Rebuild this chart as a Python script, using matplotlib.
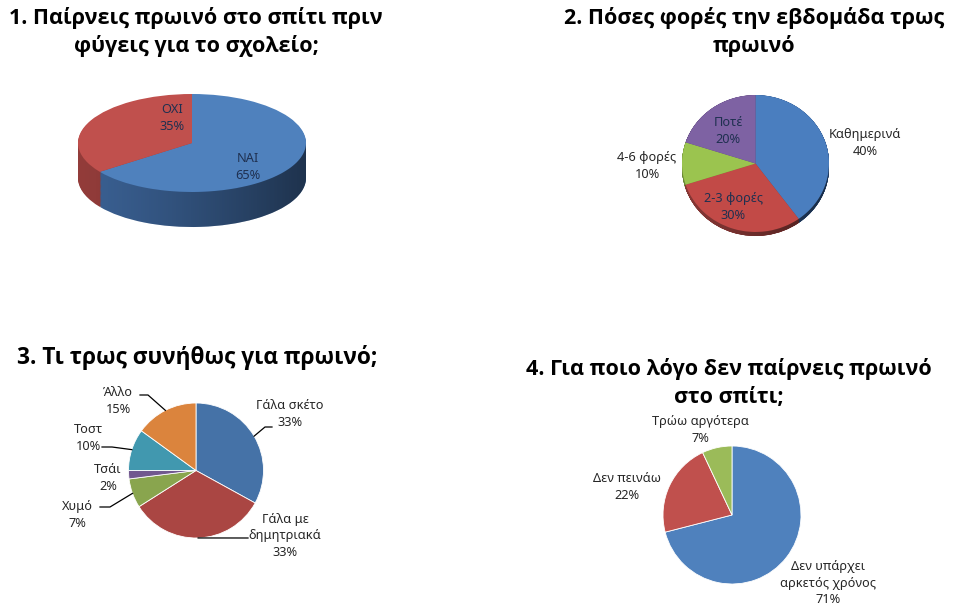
import matplotlib
matplotlib.use('Agg')
import numpy as np
import matplotlib.pyplot as plt
from matplotlib.transforms import Affine2D
from matplotlib.patches import Polygon

plt.rcParams['font.family'] = ['Noto Sans', 'DejaVu Sans']

W, H = 960, 605

# --- data ---
q1_labels = ['ΝΑΙ', 'ΟΧΙ']
q1_values = [65, 35]

q2_labels = ['Καθημερινά', '2-3 φορές', '4-6 φορές', 'Ποτέ']
q2_values = [40, 30, 10, 20]

q3_labels = ['Γάλα σκέτο', 'Γάλα με\nδημητριακά', 'Χυμό', 'Τσάι', 'Τοστ', 'Άλλο']
q3_values = [33, 33, 7, 2, 10, 15]

q4_labels = ['Δεν υπάρχει\nαρκετός χρόνος', 'Δεν πεινάω', 'Τρώω αργότερα']
q4_values = [71, 22, 7]

titles = [
    '1. Παίρνεις πρωινό στο σπίτι πριν\nφύγεις για το σχολείο;',
    '2. Πόσες φορές την εβδομάδα τρως\nπρωινό',
    '3. Τι τρως συνήθως για πρωινό;',
    '4. Για ποιο λόγο δεν παίρνεις πρωινό\nστο σπίτι;',
]

# --- styles ---
blue, red, green, purple = '#4F81BD', '#C0504D', '#9BBB59', '#8064A2'
q1_colors = [blue, red]
q1_side = ['#3D659A', '#9A3F3D']
q2_colors = ['#4A7EBF', '#C24A47', '#9BC44F', '#7E62A3']
q2_side = ['#2F5283', '#8C3A38', '#6E8C38', '#5A4575']
q3_colors = ['#4572A7', '#AA4643', '#89A54E', '#71588F', '#4198AF', '#DB843D']
q4_colors = [blue, red, green]

fig = plt.figure(figsize=(9.6, 6.05), dpi=100)
ax = fig.add_axes([0, 0, 1, 1])


def py(y):
    return H - y


def pie3d(values, colors, side, cx, cy, rx, ry, depth, steps=40):
    k = ry / rx
    c = (cx, py(cy))
    for i in range(steps, -1, -1):
        off = depth * i / steps
        cols = side if i > 0 else colors
        wedges, _ = ax.pie(values, colors=cols, startangle=90, counterclock=False,
                           radius=rx, center=c, frame=True,
                           wedgeprops=dict(linewidth=0))
        t = Affine2D().translate(-c[0], -c[1]).scale(1, k).translate(c[0], c[1] - off)
        for w in wedges:
            w.set_transform(t + ax.transData)
        if i == 1 and depth > 0:
            # shading of the side wall: lighter left, darker right
            th = np.linspace(np.pi, 2 * np.pi, 100)
            top = np.c_[c[0] + rx * np.cos(th), c[1] + ry * np.sin(th)]
            bot = np.c_[c[0] + rx * np.cos(th[::-1]), c[1] - depth + ry * np.sin(th[::-1])]
            clip = Polygon(np.r_[top, bot], closed=True, transform=ax.transData)
            g = np.linspace(0, 1, 256)
            rgba = np.zeros((1, 256, 4))
            rgba[0, :, 3] = 0.05 + 0.45 * g ** 1.3
            im = ax.imshow(rgba, extent=(c[0] - rx, c[0] + rx, c[1] - depth - ry, c[1]),
                           aspect='auto', zorder=1.5, interpolation='bilinear')
            im.set_clip_path(clip)


def pie2d(values, colors, cx, cy, r):
    wedges, _ = ax.pie(values, colors=colors, startangle=90, counterclock=False,
                       radius=r, center=(cx, py(cy)), frame=True,
                       wedgeprops=dict(linewidth=0.6, edgecolor='white'))
    return wedges


def label(x, y, txt, color='#262626', size=9.2, ha='center'):
    ax.text(x, py(y), txt, ha=ha, va='center', fontsize=size, color=color,
            linespacing=1.35, zorder=5)


# 1
pie3d(q1_values, q1_colors, q1_side, 192, 143, 114, 49, 35)
navy = '#1F3050'
label(172, 118, f'{q1_labels[1]}\n{q1_values[1]}%', color=navy)
label(248, 167, f'{q1_labels[0]}\n{q1_values[0]}%', color=navy)

# 2
pie3d(q2_values, q2_colors, q2_side, 755.5, 163.5, 73.5, 68.5, 4)
label(865, 143, f'{q2_labels[0]}\n{q2_values[0]}%')
label(733, 207, f'{q2_labels[1]}\n{q2_values[1]}%', color=navy)
label(647, 166, f'{q2_labels[2]}\n{q2_values[2]}%')
label(728, 131, f'{q2_labels[3]}\n{q2_values[3]}%', color=navy)

# 3
cx3, cy3, r3 = 196, 470.5, 67.5
w3 = pie2d(q3_values, q3_colors, cx3, cy3, r3)
q3_text = [(290, 414), (285, 536), (77, 515), (108, 478), (88, 438), (118, 401)]
for lab, v, (x, y) in zip(q3_labels, q3_values, q3_text):
    label(x, y, f'{lab}\n{v}%')
# leader lines: from wedge mid-arc to elbow and to the text
elbows = {0: [(265, 427), (272, 427)], 1: [(248, 538)], 2: [(110, 507), (100, 507)],
          4: [(112, 447), (102, 447)], 5: [(148, 395), (140, 395)]}
for i, pts in elbows.items():
    w = w3[i]
    a = np.deg2rad((w.theta1 + w.theta2) / 2)
    x0, y0 = cx3 + r3 * np.cos(a), py(cy3) + r3 * np.sin(a)
    xs = [x0] + [p[0] for p in pts]
    ys = [y0] + [py(p[1]) for p in pts]
    ax.plot(xs, ys, color='black', lw=0.9)

# 4
pie2d(q4_values, q4_colors, 732, 515, 69)
label(828, 583, f'{q4_labels[0]}\n{q4_values[0]}%')
label(627, 487, f'{q4_labels[1]}\n{q4_values[1]}%')
label(700, 430, f'{q4_labels[2]}\n{q4_values[2]}%')

# titles
tkw = dict(ha='center', va='center', fontsize=15.5, fontweight='bold', color='black',
           linespacing=1.4, family=['Open Sans', 'DejaVu Sans'])
ax.text(196, py(32), titles[0], **tkw)
ax.text(754, py(32), titles[1], **tkw)
ax.text(197, py(358), titles[2], **{**tkw, 'fontsize': 16.3})
ax.text(729, py(383), titles[3], **tkw)

ax.set_xlim(0, W)
ax.set_ylim(0, H)
ax.set_aspect('auto')
ax.axis('off')

fig.savefig('out.png', dpi=100, facecolor='white')
